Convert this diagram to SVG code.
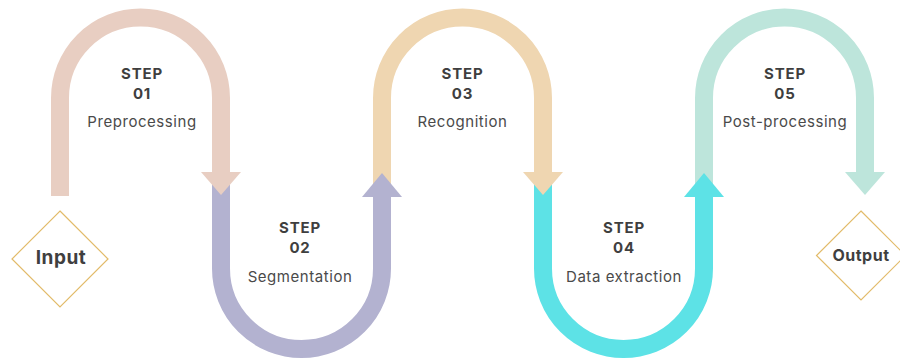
<svg xmlns="http://www.w3.org/2000/svg" width="900" height="359" viewBox="0 0 900 359">
<style>
.arc{fill:none;stroke-width:18;stroke-linecap:butt}
.st{font-family:Inter,"Liberation Sans",sans-serif;font-weight:700;font-size:15px;fill:#3f3f3f;text-anchor:middle;letter-spacing:0.8px}
.ds{font-family:Inter,"Liberation Sans",sans-serif;font-weight:400;font-size:15px;fill:#4a4a4a;text-anchor:middle;letter-spacing:0.55px}
.dia{fill:#fff;stroke:#E2BB6A;stroke-width:1.2}
.io{font-family:Inter,"Liberation Sans",sans-serif;font-weight:700;fill:#3f3f3f;text-anchor:middle;letter-spacing:0.5px}
</style>
<rect width="900" height="359" fill="#fff"/>
<g id="connectors">
<path class="arc" stroke="#E8CEC2" d="M60 196V98A80.5 80.5 0 0 1 221 98V172"/>
<path class="arc" stroke="#B3B2D0" d="M221 180V268.5A80.5 80.5 0 0 0 382 268.5V197"/>
<path class="arc" stroke="#EFD6B1" d="M382 190V98A80.5 80.5 0 0 1 543 98V172"/>
<path class="arc" stroke="#5DE2E6" d="M543 180V268.5A80.5 80.5 0 0 0 704 268.5V197"/>
<path class="arc" stroke="#BDE5DB" d="M704 190V98A80.5 80.5 0 0 1 865 98V172"/>
<polygon fill="#E8CEC2" points="201,172 241,172 221,195"/>
<polygon fill="#B3B2D0" points="362,197 402,197 382,173"/>
<polygon fill="#EFD6B1" points="523,172 563,172 543,195"/>
<polygon fill="#5DE2E6" points="684,197 724,197 704,173"/>
<polygon fill="#BDE5DB" points="845,172 885,172 865,195"/>
</g>
<g id="input">
<polygon class="dia" points="60,211 108,259 60,307 12,259"/>
<text class="io" x="61" y="264" font-size="19">Input</text>
</g>
<g id="step01">
<text class="st" x="142" y="79">STEP</text>
<text class="st" x="142" y="99">01</text>
<text class="ds" x="142" y="127">Preprocessing</text>
</g>
<g id="step02">
<text class="st" x="300" y="233">STEP</text>
<text class="st" x="300" y="253">02</text>
<text class="ds" x="300" y="282">Segmentation</text>
</g>
<g id="step03">
<text class="st" x="462.5" y="79">STEP</text>
<text class="st" x="462.5" y="99">03</text>
<text class="ds" x="462.5" y="127">Recognition</text>
</g>
<g id="step04">
<text class="st" x="624" y="233">STEP</text>
<text class="st" x="624" y="253">04</text>
<text class="ds" x="624" y="282">Data extraction</text>
</g>
<g id="step05">
<text class="st" x="785" y="79">STEP</text>
<text class="st" x="785" y="99">05</text>
<text class="ds" x="785" y="127">Post-processing</text>
</g>
<g id="output">
<polygon class="dia" points="861,211 905.5,255.5 861,300 816.5,255.5"/>
<text class="io" x="861" y="261" font-size="16">Output</text>
</g>
</svg>
